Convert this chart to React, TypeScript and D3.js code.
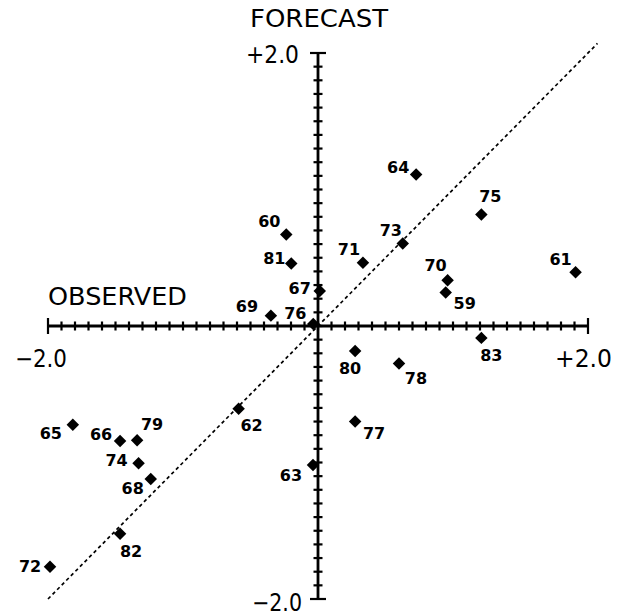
import React from "react";
import * as d3 from "d3";

const years = ["59","60","61","62","63","64","65","66","67","68","69","70","71","72","73","74","75","76","77","78","79","80","81","82","83"];
const observed = [0.946,-0.235,1.908,-0.588,-0.037,0.727,-1.816,-1.466,0.013,-1.239,-0.349,0.96,0.333,-1.985,0.628,-1.329,1.21,-0.035,0.275,0.6,-1.34,0.275,-0.198,-1.466,1.21];
const forecast = [0.245,0.671,0.394,-0.607,-1.018,1.11,-0.723,-0.843,0.257,-1.12,0.076,0.336,0.464,-1.764,0.604,-1.006,0.817,0.015,-0.7,-0.274,-0.837,-0.184,0.458,-1.522,-0.087];
const axisTicks = d3.range(-20, 21).map((i) => i / 10);
const diagonalExtent = [-2, 2.07];

// label placement (style), in px relative to marker
const labelDx = [19,-17,-15,13,-22,-18,-22,-19,-20,-18,-24,-12,-14,-20,-12,-22,9,-18,19,17,15,-5,-17,11,10];
const labelDy = [11,-13,-13,17,11,-7,9,-7,-2,10,-9,-15,-13,0,-13,-3,-18,-10,12,15,-16,17,-5,18,18];

const W = 619, H = 616;

export default function App() {
  const x = d3.scaleLinear().domain([-2, 2]).range([48, 588]);
  const y = d3.scaleLinear().domain([-2, 2]).range([599, 53]);
  const x0 = x(0), y0 = y(0);
  const diamond = d3.symbol().type(d3.symbolSquare).size(78)();
  const line = d3.line<number>().x((v) => x(v)).y((v) => y(v));
  const font = "'DejaVu Sans', sans-serif";

  return (
    <svg width={W} height={H} style={{ position: "absolute", left: 0, top: 0, background: "#fff" }}>
      {/* diagonal */}
      <path d={line(diagonalExtent) || ""} stroke="#000" strokeWidth={1.7} strokeDasharray="3.5,3" fill="none" />
      {/* x axis */}
      <line x1={x(-2)} x2={x(2)} y1={y0} y2={y0} stroke="#000" strokeWidth={2.8} />
      {axisTicks.map((t, i) => {
        const end = Math.abs(t) === 2;
        const len = end ? 8 : 4.5;
        return <line key={"xt" + i} x1={x(t)} x2={x(t)} y1={y0 - len} y2={y0 + len} stroke="#000" strokeWidth={2.2} />;
      })}
      {/* y axis */}
      <line x1={x0} x2={x0} y1={y(-2)} y2={y(2)} stroke="#000" strokeWidth={2.8} />
      {axisTicks.map((t, i) => {
        const end = Math.abs(t) === 2;
        const len = end ? 8 : 4.5;
        return <line key={"yt" + i} x1={x0 - len} x2={x0 + len} y1={y(t)} y2={y(t)} stroke="#000" strokeWidth={2.2} />;
      })}
      {/* axis labels */}
      <g fontFamily={font} fontSize={24} fill="#000">
        <text x={x0 + 1} y={27} textAnchor="middle" textLength={138} lengthAdjust="spacingAndGlyphs">FORECAST</text>
        <text x={48} y={305} textLength={139} lengthAdjust="spacingAndGlyphs">OBSERVED</text>
        <text x={x0 - 72} y={y(2) + 10} textLength={53} lengthAdjust="spacingAndGlyphs">+2.0</text>
        <text x={x0 - 66} y={y(-2) + 12} textLength={50} lengthAdjust="spacingAndGlyphs">−2.0</text>
        <text x={15} y={367} textLength={52} lengthAdjust="spacingAndGlyphs">−2.0</text>
        <text x={555} y={367} textLength={57} lengthAdjust="spacingAndGlyphs">+2.0</text>
      </g>
      {/* points */}
      {years.map((yr, i) => (
        <path key={"p" + yr} d={diamond} transform={`translate(${x(observed[i])},${y(forecast[i])}) rotate(45)`} fill="#000" />
      ))}
      <g fontFamily={font} fontSize={16} fontWeight="bold" fill="#000">
        {years.map((yr, i) => (
          <text key={"l" + yr} x={x(observed[i]) + labelDx[i]} y={y(forecast[i]) + labelDy[i]} textAnchor="middle" dominantBaseline="central">{yr}</text>
        ))}
      </g>
    </svg>
  );
}
